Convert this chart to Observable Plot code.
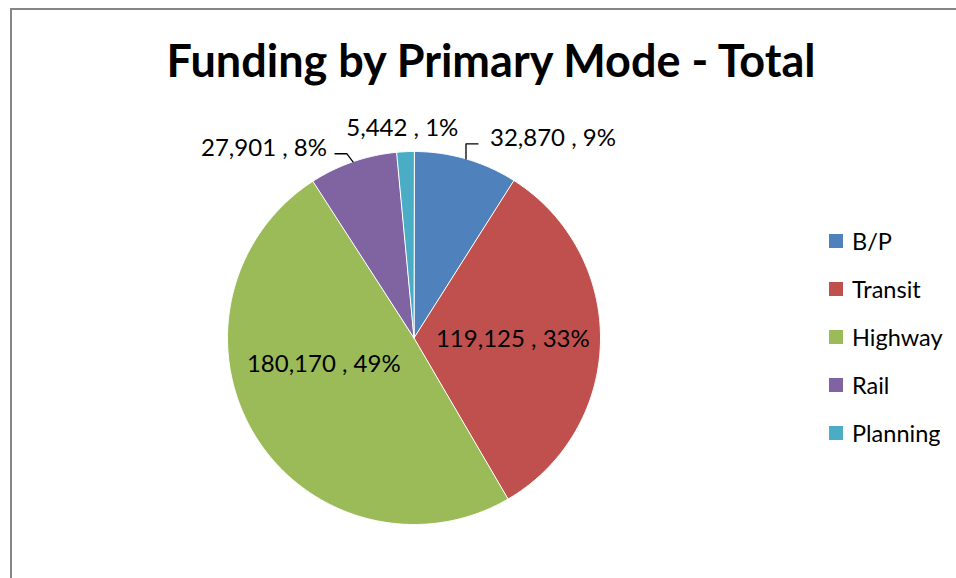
<!DOCTYPE html>
<html><head><meta charset="utf-8">
<script src="https://cdn.jsdelivr.net/npm/d3@7"></script>
<script src="https://cdn.jsdelivr.net/npm/@observablehq/plot@0.6"></script>
<style>
html,body{margin:0;padding:0;background:#fff;}
#wrap{position:relative;width:956px;height:578px;overflow:hidden;font-family:Lato,"Open Sans",sans-serif;}
#border{position:absolute;left:10px;top:8px;width:1000px;height:1000px;border-left:2px solid #868686;border-top:2px solid #868686;}
#title{position:absolute;left:0;top:33px;width:982px;text-align:center;font-family:Lato,sans-serif;font-weight:bold;font-size:45px;line-height:1.2;color:#000;margin:0;white-space:nowrap;}
#chart{position:absolute;left:0;top:0;}
#legend{position:absolute;left:829px;top:217px;width:127px;}
#legend .leg-swatches{font-family:Lato,sans-serif;font-size:23.5px;color:#000;margin:0;columns:auto;}
#legend .leg-swatch{display:flex;align-items:center;height:48px;padding:0;margin:0;}
#legend .leg-swatch > svg{margin-right:9px;}
</style></head>
<body><div id="wrap"><div id="border"></div><div id="chart"></div><div id="title">Funding by Primary Mode - Total</div><div id="legend"></div></div>
<script>
const categories = ["B/P", "Transit", "Highway", "Rail", "Planning"];
const values = [32870, 119125, 180170, 27901, 5442];
const colors = ["#4F81BD", "#C0504D", "#9BBB59", "#8064A2", "#4BACC6"];

const total = d3.sum(values);
const fmt = d3.format(",");
const arcs = d3.pie().sort(null).value(d => d)(values);

const xRange = [227, 600], yRange = [524, 151];
const R = (xRange[1] - xRange[0]) / 2;

// slice polygons in data units (unit circle), clockwise from 12 o'clock
const slicePts = [];
arcs.forEach((a, i) => {
  slicePts.push({name: categories[i], x: 0, y: 0});
  const n = Math.max(2, Math.ceil((a.endAngle - a.startAngle) / (Math.PI / 360)));
  for (let k = 0; k <= n; k++) {
    const t = a.startAngle + (a.endAngle - a.startAngle) * k / n;
    slicePts.push({name: categories[i], x: Math.sin(t), y: Math.cos(t)});
  }
});

const info = arcs.map((a, i) => {
  const mid = (a.startAngle + a.endAngle) / 2;
  return {
    name: categories[i],
    label: fmt(values[i]) + " , " + Math.round(values[i] / total * 100) + "%",
    ex: Math.sin(mid), ey: Math.cos(mid),
    ix: 0.53 * Math.sin(mid), iy: 0.53 * Math.cos(mid)
  };
});
const byName = Object.fromEntries(info.map(d => [d.name, d]));

// leader lines: pixel offsets from the slice edge
const leaderBends = {"B/P": [[0, 15], [12, 15]], "Rail": [[-6, 8], [-18, 8]]};
const leaderPts = [];
const leaderEnd = [];
for (const [name, bends] of Object.entries(leaderBends)) {
  const d = byName[name];
  leaderPts.push({name, x: d.ex, y: d.ey});
  bends.forEach(([px, py]) => leaderPts.push({name, x: d.ex + px / R, y: d.ey + py / R}));
  const last = bends[bends.length - 1];
  leaderEnd.push({name, label: d.label, x: d.ex + last[0] / R, y: d.ey + last[1] / R});
}

const textStyle = {fontFamily: "Lato, sans-serif", fontSize: 24, fill: "#000"};

const chart = Plot.plot({
  width: 956, height: 578, margin: 0,
  x: {domain: [-1, 1], range: xRange, axis: null},
  y: {domain: [-1, 1], range: yRange, axis: null},
  color: {domain: categories, range: colors},
  marks: [
    Plot.line(slicePts, {x: "x", y: "y", z: "name", fill: "name", stroke: "#fff", strokeWidth: 1, curve: "linear-closed"}),
    Plot.line(leaderPts, {x: "x", y: "y", z: "name", stroke: "#000", strokeWidth: 1.3}),
    Plot.text(info.filter(d => d.name === "Transit"), {x: "ix", y: "iy", text: "label", ...textStyle}),
    Plot.text(info.filter(d => d.name === "Highway"), {x: "ix", y: "iy", text: "label", dx: -6, dy: -25, ...textStyle}),
    Plot.text(info.filter(d => d.name === "Planning"), {x: "ex", y: "ey", text: "label", dx: -3, dy: -23, ...textStyle}),
    Plot.text(leaderEnd.filter(d => d.name === "B/P"), {x: "x", y: "y", text: "label", textAnchor: "start", dx: 12, dy: -6, ...textStyle}),
    Plot.text(leaderEnd.filter(d => d.name === "Rail"), {x: "x", y: "y", text: "label", textAnchor: "end", dx: -8, dy: -5, ...textStyle})
  ]
});
document.getElementById("chart").appendChild(chart);

const legend = Plot.legend({
  color: {domain: categories, range: colors},
  legend: "swatches", columns: 1, swatchSize: 14, className: "leg"
});
document.getElementById("legend").appendChild(legend);
</script>
</body></html>
